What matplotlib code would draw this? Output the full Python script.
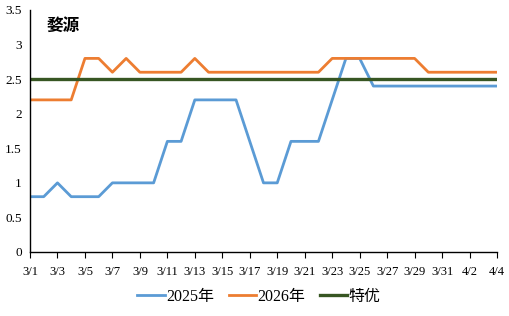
import matplotlib
matplotlib.use("Agg")
import matplotlib.pyplot as plt

# dates 3/1 .. 4/4
dates = [f"3/{d}" for d in range(1, 32)] + [f"4/{d}" for d in range(1, 5)]

y2025 = [0.8, 0.8, 1.0, 0.8, 0.8, 0.8, 1.0, 1.0, 1.0, 1.0,
         1.6, 1.6, 2.2, 2.2, 2.2, 2.2, 1.6, 1.0, 1.0, 1.6,
         1.6, 1.6, 2.2, 2.8, 2.8, 2.4, 2.4, 2.4, 2.4, 2.4,
         2.4, 2.4, 2.4, 2.4, 2.4]
y2026 = [2.2, 2.2, 2.2, 2.2, 2.8, 2.8, 2.6, 2.8, 2.6, 2.6,
         2.6, 2.6, 2.8, 2.6, 2.6, 2.6, 2.6, 2.6, 2.6, 2.6,
         2.6, 2.6, 2.8, 2.8, 2.8, 2.8, 2.8, 2.8, 2.8, 2.6,
         2.6, 2.6, 2.6, 2.6, 2.6]
teyou = [2.5] * len(dates)

serif = ['Liberation Serif', 'Noto Sans CJK SC']

fig = plt.figure(figsize=(5.1, 3.16), dpi=100)
ax = fig.add_axes([30/510, 64/316, 467/510, 242/316])

x = list(range(len(dates)))
ax.plot(x, y2025, color='#5B9BD5', lw=2.0, label='2025年')
ax.plot(x, y2026, color='#ED7D31', lw=2.0, label='2026年')
ax.plot(x, teyou, color='#375623', lw=2.4, label='特优')

ax.set_xlim(0, len(dates) - 1)
ax.set_ylim(0, 3.5)
ax.set_xticks(x[::2])
ax.set_xticklabels(dates[::2], family=serif, fontsize=9)
ax.set_yticks([0, 0.5, 1, 1.5, 2, 2.5, 3, 3.5])
ax.set_yticklabels(['0', '0.5', '1', '1.5', '2', '2.5', '3', '3.5'], family=serif, fontsize=9.5)
ax.tick_params(axis='y', length=0, pad=6)
ax.tick_params(axis='x', length=4, direction='out', pad=6)
for s in ['top', 'right']:
    ax.spines[s].set_visible(False)
for s in ['left', 'bottom']:
    ax.spines[s].set_color('black')
    ax.spines[s].set_linewidth(1.0)

ax.text(0.035, 0.97, '婺源', transform=ax.transAxes, family=['Noto Sans CJK SC'],
        fontsize=12, fontweight='bold', va='top')

leg = ax.legend(loc='center', bbox_to_anchor=(0.49, -0.186), ncol=3, frameon=False,
                prop={'family': serif, 'size': 11.5}, handlelength=1.7, columnspacing=0.9,
                handletextpad=0.1)

fig.savefig('out.png', dpi=100)
